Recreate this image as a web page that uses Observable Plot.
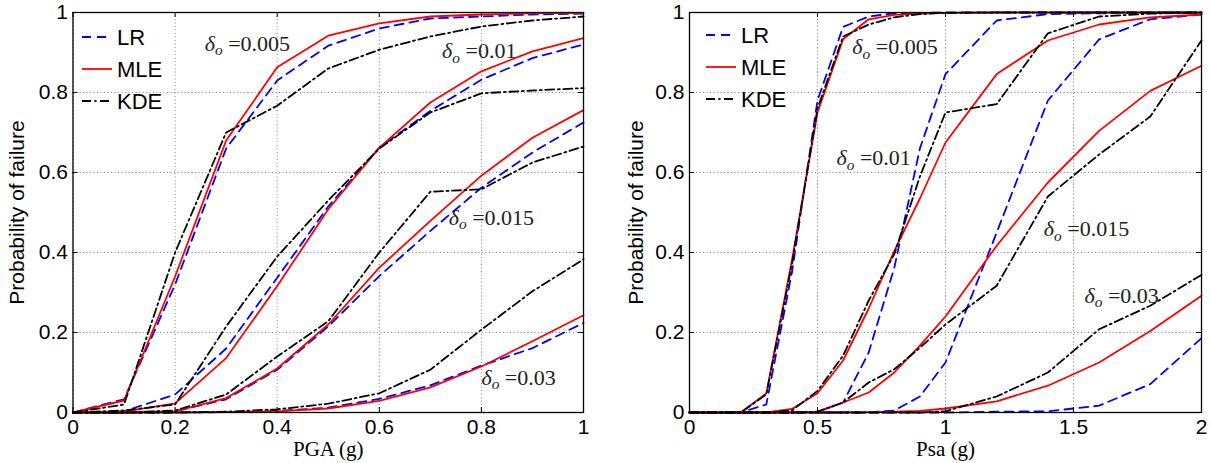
<!DOCTYPE html>
<html><head><meta charset="utf-8">
<script src="https://cdn.jsdelivr.net/npm/d3@7"></script>
<script src="https://cdn.jsdelivr.net/npm/@observablehq/plot@0.6"></script>
<style>
body{margin:0;background:#fff;}
#wrap{display:flex;width:1211px;height:463px;overflow:hidden;}
</style></head><body><div id="wrap"></div>
<script>
// ---------- data ----------
const methods = ["LR", "MLE", "KDE"];
const deltas = ["0.005", "0.01", "0.015", "0.03"];
const yTicks = [0, 0.2, 0.4, 0.6, 0.8, 1];
const yLabel = "Probability of failure";

// Left panel: PGA
const pgaX = [0, 0.1, 0.2, 0.3, 0.4, 0.5, 0.6, 0.7, 0.8, 0.9, 1];
const pgaTicks = [0, 0.2, 0.4, 0.6, 0.8, 1];
const pgaLabel = "PGA (g)";
const pgaLR005  = [0, 0.033, 0.32, 0.66, 0.83, 0.917, 0.96, 0.985, 0.99, 0.995, 0.997];
const pgaMLE005 = [0, 0.03, 0.34, 0.68, 0.863, 0.942, 0.973, 0.99, 0.995, 0.998, 0.999];
const pgaKDE005 = [0, 0.02, 0.40, 0.70, 0.767, 0.86, 0.907, 0.94, 0.965, 0.98, 0.99];
const pgaLR01   = [0, 0.003, 0.045, 0.16, 0.337, 0.515, 0.662, 0.754, 0.832, 0.886, 0.92];
const pgaMLE01  = [0, 0.002, 0.023, 0.136, 0.316, 0.508, 0.662, 0.775, 0.853, 0.903, 0.936];
const pgaKDE01  = [0, 0.005, 0.02, 0.215, 0.39, 0.53, 0.66, 0.75, 0.798, 0.805, 0.811];
const pgaLR015  = [0, 0, 0.003, 0.033, 0.107, 0.215, 0.341, 0.454, 0.562, 0.65, 0.725];
const pgaMLE015 = [0, 0, 0.003, 0.036, 0.11, 0.22, 0.362, 0.479, 0.592, 0.687, 0.756];
const pgaKDE015 = [0, 0, 0.005, 0.045, 0.14, 0.228, 0.40, 0.552, 0.558, 0.625, 0.665];
const pgaLR03   = [0, 0, 0, 0.001, 0.004, 0.012, 0.034, 0.068, 0.117, 0.161, 0.224];
const pgaMLE03  = [0, 0, 0, 0.001, 0.003, 0.01, 0.029, 0.063, 0.115, 0.178, 0.243];
const pgaKDE03  = [0, 0, 0, 0.002, 0.008, 0.022, 0.048, 0.107, 0.207, 0.303, 0.383];
const pgaNoteX = [0.258, 0.723, 0.736, 0.80];
const pgaNoteY = [0.922, 0.904, 0.4875, 0.0875];

// Right panel: Psa
const psaX = [0, 0.1, 0.2, 0.3, 0.4, 0.5, 0.6, 0.7, 0.8, 0.9, 1, 1.2, 1.4, 1.6, 1.8, 2];
const psaTicks = [0, 0.5, 1, 1.5, 2];
const psaLabel = "Psa (g)";
const psaLR005  = [0, 0, 0, 0.02, 0.35, 0.78, 0.964, 0.99, 0.998, 0.999, 1, 1, 1, 1, 1, 1];
const psaMLE005 = [0, 0, 0, 0.048, 0.38, 0.75, 0.933, 0.983, 0.994, 0.997, 0.999, 1, 1, 1, 1, 1];
const psaKDE005 = [0, 0, 0, 0.045, 0.37, 0.76, 0.94, 0.97, 0.988, 0.996, 0.999, 1, 1, 1, 1, 1];
const psaLR01   = [0, 0, 0, 0, 0, 0.002, 0.025, 0.15, 0.362, 0.66, 0.846, 0.98, 0.996, 0.998, 0.999, 1];
const psaMLE01  = [0, 0, 0, 0, 0.009, 0.048, 0.13, 0.26, 0.404, 0.535, 0.675, 0.846, 0.93, 0.97, 0.988, 0.995];
const psaKDE01  = [0, 0, 0, 0, 0.005, 0.054, 0.142, 0.28, 0.396, 0.59, 0.75, 0.771, 0.948, 0.99, 0.997, 1];
const psaLR015  = [0, 0, 0, 0, 0, 0, 0, 0, 0.005, 0.04, 0.125, 0.45, 0.78, 0.933, 0.983, 0.995];
const psaMLE015 = [0, 0, 0, 0, 0, 0.002, 0.025, 0.05, 0.1, 0.167, 0.24, 0.417, 0.575, 0.704, 0.804, 0.867];
const psaKDE015 = [0, 0, 0, 0, 0, 0.002, 0.025, 0.075, 0.108, 0.162, 0.22, 0.317, 0.54, 0.645, 0.74, 0.93];
const psaLR03   = [0, 0, 0, 0, 0, 0, 0, 0, 0, 0, 0, 0.002, 0.003, 0.017, 0.071, 0.186];
const psaMLE03  = [0, 0, 0, 0, 0, 0, 0, 0.001, 0.002, 0.004, 0.01, 0.028, 0.067, 0.125, 0.204, 0.292];
const psaKDE03  = [0, 0, 0, 0, 0, 0, 0, 0, 0, 0, 0.003, 0.04, 0.1, 0.208, 0.267, 0.344];
const psaNoteX = [0.636, 0.574, 1.384, 1.543];
const psaNoteY = [0.914, 0.636, 0.4585, 0.292];

// ---------- styles ----------
const colors = {LR: "#0000ff", MLE: "#ff0000", KDE: "#000000"};
const dashes = {LR: "9,6", MLE: null, KDE: "9,3.5,2,3.5"};
const sans = "'Liberation Sans', Arial, Helvetica, sans-serif";
const serif = "'Liberation Serif', 'Times New Roman', serif";

function buildRows(x, series) {
  const rows = [];
  methods.forEach(m => deltas.forEach((d, j) => {
    series[m][j].forEach((p, i) => rows.push({x: x[i], p, method: m, delta: d}));
  }));
  return rows;
}

const pgaRows = buildRows(pgaX, {
  LR: [pgaLR005, pgaLR01, pgaLR015, pgaLR03],
  MLE: [pgaMLE005, pgaMLE01, pgaMLE015, pgaMLE03],
  KDE: [pgaKDE005, pgaKDE01, pgaKDE015, pgaKDE03]
});
const psaRows = buildRows(psaX, {
  LR: [psaLR005, psaLR01, psaLR015, psaLR03],
  MLE: [psaMLE005, psaMLE01, psaMLE015, psaMLE03],
  KDE: [psaKDE005, psaKDE01, psaKDE015, psaKDE03]
});

function panel({width, marginLeft, marginRight, xTicks, rows, xLabel, noteX, noteY, labelOffset, legendX, legendY}) {
  const xMax = xTicks[xTicks.length - 1];
  const tx = 0.0098 * xMax, ty = 0.0125;
  const notes = deltas.map((d, i) => ({x: noteX[i], y: noteY[i], text: "δo =" + d}));
  const svg = Plot.plot({
    width, height: 463,
    marginTop: 12, marginBottom: 51, marginLeft, marginRight,
    x: {domain: [0, xMax]},
    y: {domain: [0, 1]},
    style: {fontFamily: sans, fontSize: "21px", background: "white", color: "black", overflow: "visible"},
    marks: [
      Plot.gridX(xTicks, {stroke: "#777", strokeOpacity: 0.9, strokeDasharray: "1,2.5"}),
      Plot.gridY(yTicks, {stroke: "#777", strokeOpacity: 0.9, strokeDasharray: "1,2.5"}),
      ...methods.map(m => Plot.line(rows.filter(r => r.method === m), {
        x: "x", y: "p", z: "delta", stroke: colors[m], strokeWidth: 1.8,
        strokeDasharray: dashes[m]
      })),
      Plot.ruleX(xTicks, {y1: 0, y2: ty, stroke: "black"}),
      Plot.ruleX(xTicks, {y1: 1, y2: 1 - ty, stroke: "black"}),
      Plot.ruleY(yTicks, {x1: 0, x2: tx, stroke: "black"}),
      Plot.ruleY(yTicks, {x1: xMax, x2: xMax - tx, stroke: "black"}),
      Plot.frame({stroke: "black", strokeWidth: 1.3}),
      Plot.axisX(xTicks, {tickSize: 0, tickPadding: 7, tickFormat: d => String(d), label: null, fontSize: 21}),
      Plot.axisY(yTicks, {tickSize: 0, tickPadding: 5, tickFormat: d => String(d),
        label: yLabel, labelAnchor: "center", labelOffset, labelArrow: "none", fontSize: 21}),
      Plot.text([xLabel], {frameAnchor: "bottom", dy: 43, fontFamily: serif, fontSize: 21}),
      Plot.text(notes, {x: "x", y: "y", text: "text", textAnchor: "start", fontFamily: serif, fontSize: 22, fill: "#222"})
    ]
  });
  // italic delta with subscript o
  svg.querySelectorAll("text").forEach(t => {
    const s = t.textContent;
    if (s.startsWith("δo =")) {
      const val = s.slice(2);
      t.textContent = "";
      const ns = "http://www.w3.org/2000/svg";
      const a = document.createElementNS(ns, "tspan");
      a.setAttribute("font-style", "italic"); a.textContent = "δ";
      const b = document.createElementNS(ns, "tspan");
      b.setAttribute("font-style", "italic"); b.setAttribute("font-size", "0.7em");
      b.setAttribute("dy", "0.3em"); b.textContent = "o";
      const c = document.createElementNS(ns, "tspan");
      c.setAttribute("dy", "-0.21em"); c.textContent = "\u00a0" + val.trim();
      t.append(a, b, c);
    }
  });
  // legend
  const g = d3.select(svg).append("g").attr("font-family", sans).attr("font-size", 22).attr("text-anchor", "start");
  methods.forEach((m, i) => {
    const y = legendY + i * 32;
    g.append("line").attr("x1", legendX).attr("x2", legendX + 30).attr("y1", y).attr("y2", y)
      .attr("stroke", colors[m]).attr("stroke-width", 1.8)
      .attr("stroke-dasharray", dashes[m] || null);
    g.append("text").attr("x", legendX + 35).attr("y", y).attr("dy", "0.36em")
      .attr("text-anchor", "start").attr("fill", "black").text(m);
  });
  return svg;
}

const wrap = document.getElementById("wrap");
wrap.append(panel({width: 605, marginLeft: 72.5, marginRight: 22, xTicks: pgaTicks, rows: pgaRows,
  xLabel: pgaLabel, noteX: pgaNoteX, noteY: pgaNoteY, labelOffset: 64, legendX: 82, legendY: 37}));
wrap.append(panel({width: 606, marginLeft: 84, marginRight: 10, xTicks: psaTicks, rows: psaRows,
  xLabel: psaLabel, noteX: psaNoteX, noteY: psaNoteY, labelOffset: 61, legendX: 101, legendY: 35}));
</script></body></html>
